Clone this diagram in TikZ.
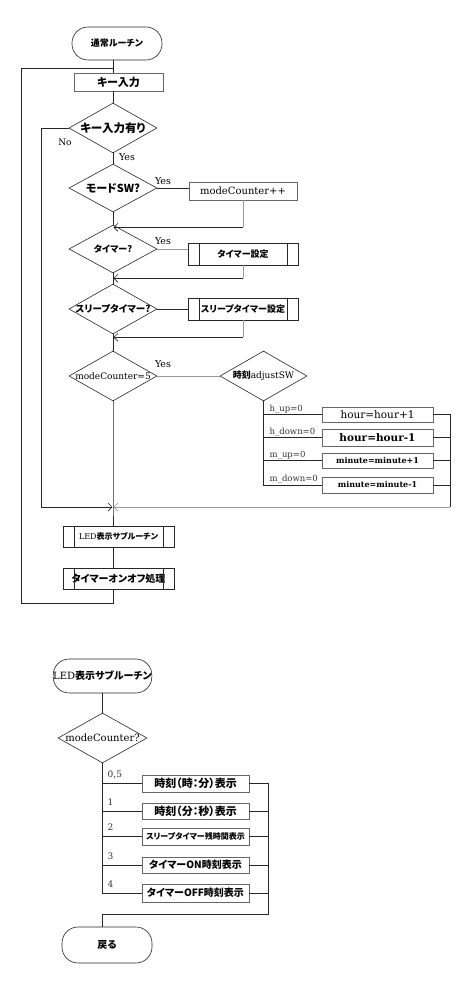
\documentclass[tikz,border=0pt]{standalone}
\usepackage{fontspec}
\setmainfont{DejaVu Serif}
\newfontfamily\jp{Noto Sans CJK JP}[RawFeature=+palt]
\usetikzlibrary{shapes.geometric,arrows.meta,calc}
\tikzset{
  ln/.style={draw=black!85, line width=0.6pt},
  lg/.style={draw=black!40, line width=0.6pt},
  arr/.style={-{Straight Barb[length=4pt,width=8pt]}, shorten >=0.5pt},
  box/.style={draw=black!60, line width=0.6pt, rectangle, inner sep=0pt},
  dia/.style={draw=black!85, line width=0.6pt, diamond, inner sep=0pt, minimum width=88pt, minimum height=50pt},
  term/.style={draw=black!85, line width=0.6pt, rectangle, rounded corners=16pt, inner sep=0pt},
  lab/.style={inner sep=0pt, text=black!80, font=\fontsize{8.5}{10}\selectfont},
}
\newcommand{\jf}[1]{\jp\bfseries\fontsize{#1}{#1}\selectfont}
\newcommand{\lf}[1]{\fontsize{#1}{#1}\selectfont}
\begin{document}
\begin{tikzpicture}[x=1pt,y=-1pt]
\useasboundingbox[fill=white] (0,0) rectangle (474,981);
% ---------- main routine ----------
\node[term, minimum width=90pt, minimum height=33pt, font=\jf{9}] (start) at (117,43.5) {通常ルーチン};
\node[box, minimum width=89pt, minimum height=18pt, font=\jf{11}] (key) at (118.5,82) {キー入力};
\node[dia, label={[font=\jf{11.5}]center:キー入力有り}] (d1) at (113,128) {};
\node[dia, minimum height=48pt, label={[font=\jf{11}]center:モードSW?}] (d2) at (113,188) {};
\node[box, minimum width=108pt, minimum height=18pt, font=\lf{10}] (mc) at (243,191) {modeCounter++};
\node[dia, minimum height=48pt, label={[font=\jf{9}]center:タイマー?}] (d3) at (113,249) {};
\node[box, draw=black!85, minimum width=110pt, minimum height=22pt, font=\jf{9}] (tb) at (243,254) {タイマー設定};
\node[dia, label={[font=\jf{9.5}]center:スリープタイマー?}] (d4) at (113,309) {};
\node[box, draw=black!85, minimum width=110pt, minimum height=22pt, font=\jf{9}] (sb) at (243,309) {スリープタイマー設定};
\node[dia, label={[font=\lf{9}]center:modeCounter=5}] (d5) at (113,376) {};
\node[dia, minimum width=87pt, label={[font=\lf{9}]center:{\jf{9}時刻}adjustSW}] (adj) at (263.5,376) {};
\node[box, minimum width=111pt, minimum height=15pt, font=\lf{10.5}] (h1) at (377.5,414.5) {hour=hour+1};
\node[box, minimum width=111pt, minimum height=17pt, font=\lf{10.5}\bfseries] (h2) at (377.5,437.5) {hour=hour-1};
\node[box, minimum width=111pt, minimum height=15pt, font=\lf{8}\bfseries] (h3) at (377.5,460.5) {minute=minute+1};
\node[box, minimum width=111pt, minimum height=16pt, font=\lf{8}\bfseries] (h4) at (377.5,485) {minute=minute-1};
\coordinate (m) at (113,507);
\coordinate (rr) at (450,507);
\coordinate (nl) at (41,507);
\node[box, draw=black!85, minimum width=111pt, minimum height=21pt, font=\lf{8}] (led) at (118.5,536.5) {LED{\jf{8}表示サブルーチン}};
\node[box, draw=black!85, minimum width=111pt, minimum height=21pt, font=\jf{10}] (tm) at (118.5,578.5) {タイマーオンオフ処理};
\coordinate (lp) at (21,603);
\coordinate (lq) at (113,68);
% inner lines of predefined process boxes
\foreach \n in {tb,sb,led,tm}{
  \draw[ln] ([xshift=11.5pt]\n.north west) -- ([xshift=11.5pt]\n.south west);
  \draw[ln] ([xshift=-11pt]\n.north east) -- ([xshift=-11pt]\n.south east);
}
% main flow
\draw[ln] (start.south -| d1) -- (key.north -| d1);
\draw[ln] (key.south -| d1) -- (d1.north);
\draw[ln] (d1.south) -- (d2.north);
\draw[ln] (d2.south) -- (d3.north);
\draw[ln] (d3.south) -- (d4.north);
\draw[ln] (d4.south) -- (d5.north);
\draw[ln] (d5.south) -- (m) -- (led.north -| m);
\draw[ln] (led.south -| m) -- (tm.north -| m);
\draw[ln] (tm.south -| m) |- (lp) |- (lq);
% No loop
\draw[ln, arr] (d1.west) -| (nl) -- (m);
% mode SW
\draw[ln] (d2.east) -- (d2.east -| mc.west);
\draw[lg] (mc.south) -- ++(0,27) coordinate (c1);
\draw[ln, arr] (c1) -- (c1 -| d2);
% timer
\draw[lg] (d3.east) -- (d3.east -| tb.west);
\draw[lg] (tb.south) -- ++(0,13) coordinate (c2);
\draw[ln, arr] (c2) -- (c2 -| d3);
% sleep timer
\draw[ln] (d4.east) -- (sb.west);
\draw[lg] (sb.south) -- ++(0,17) coordinate (c3);
\draw[ln, arr] (c3) -- (c3 -| d4);
% modeCounter=5
\draw[lg] (d5.east) -- (adj.west);
\draw[ln] (adj.south) |- (h4.west);
\foreach \h in {h1,h2,h3}{ \draw[ln] (adj.south |- \h.west) -- (\h.west); }
\draw[ln] (h1.east) -| (rr);
\foreach \h in {h2,h3,h4}{ \draw[ln] (\h.east) -- (\h.east -| rr); }
\draw[lg, arr] (rr) -- (m);
% labels
\node[font=\lf{9.5}, inner sep=0pt] (y1) at (127,157) {Yes};
\node[font=\lf{9}, inner sep=0pt] (no) at (65,142) {No};
\node[font=\lf{9.5}, inner sep=0pt] (y2) at (163,181) {Yes};
\node[font=\lf{9.5}, inner sep=0pt] (y3) at (163,241) {Yes};
\node[font=\lf{9.5}, inner sep=0pt] (y5) at (163,364) {Yes};
\node[lab, anchor=base west] (l1) at ($(adj.south |- h1.west)+(6,-3.5)$) {h\_up=0};
\node[lab, anchor=base west] (l2) at ($(adj.south |- h2.west)+(6,-3.5)$) {h\_down=0};
\node[lab, anchor=base west] (l3) at ($(adj.south |- h3.west)+(6,-3.5)$) {m\_up=0};
\node[lab, anchor=base west] (l4) at ($(adj.south |- h4.west)+(6,-3.5)$) {m\_down=0};
% ---------- LED sub routine ----------
\node[term, minimum width=89pt, minimum height=34pt, font=\lf{10}] (led2) at (102.5,676) {LED{\jf{10}表示サブルーチン}};
\node[dia, minimum width=89pt, label={[font=\lf{10}]center:modeCounter?}] (dq) at (102.5,738) {};
\node[box, minimum width=107pt, minimum height=17pt, font=\jf{11}] (b1) at (195.5,783.5) {時刻（時：分）表示};
\node[box, minimum width=107pt, minimum height=16pt, font=\jf{11}] (b2) at (195.5,811) {時刻（分：秒）表示};
\node[box, minimum width=107pt, minimum height=17pt, font=\jf{8}] (b3) at (195.5,836.5) {スリープタイマー残時間表示};
\node[box, minimum width=107pt, minimum height=16pt, font=\jf{10}] (b4) at (195.5,865) {タイマーON時刻表示};
\node[box, minimum width=107pt, minimum height=18pt, font=\jf{10}] (b5) at (195.5,893) {タイマーOFF時刻表示};
\node[term, minimum width=90pt, minimum height=36pt, font=\jf{10}] (ret) at (107,945) {戻る};
\coordinate (rv) at (268,914);
\draw[ln] (led2.south -| dq) -- (dq.north);
\draw[ln] (dq.south) |- (b5.west);
\foreach \b in {b1,b2,b3,b4}{ \draw[ln] (dq.south |- \b.west) -- (\b.west); }
\draw[ln] (b1.east) -| (rv) -| (ret.north -| dq);
\foreach \b in {b2,b3,b4,b5}{ \draw[ln] (\b.east) -- (\b.east -| rv); }
\node[lab, font=\lf{9}, anchor=base west] (k1) at ($(dq.south |- b1.west)+(5,-6)$) {0,5};
\node[lab, font=\lf{9}, anchor=base west] (k2) at ($(dq.south |- b2.west)+(5,-6)$) {1};
\node[lab, font=\lf{9}, anchor=base west] (k3) at ($(dq.south |- b3.west)+(5,-6)$) {2};
\node[lab, font=\lf{9}, anchor=base west] (k4) at ($(dq.south |- b4.west)+(5,-6)$) {3};
\node[lab, font=\lf{9}, anchor=base west] (k5) at ($(dq.south |- b5.west)+(5,-6)$) {4};
\end{tikzpicture}
\end{document}
